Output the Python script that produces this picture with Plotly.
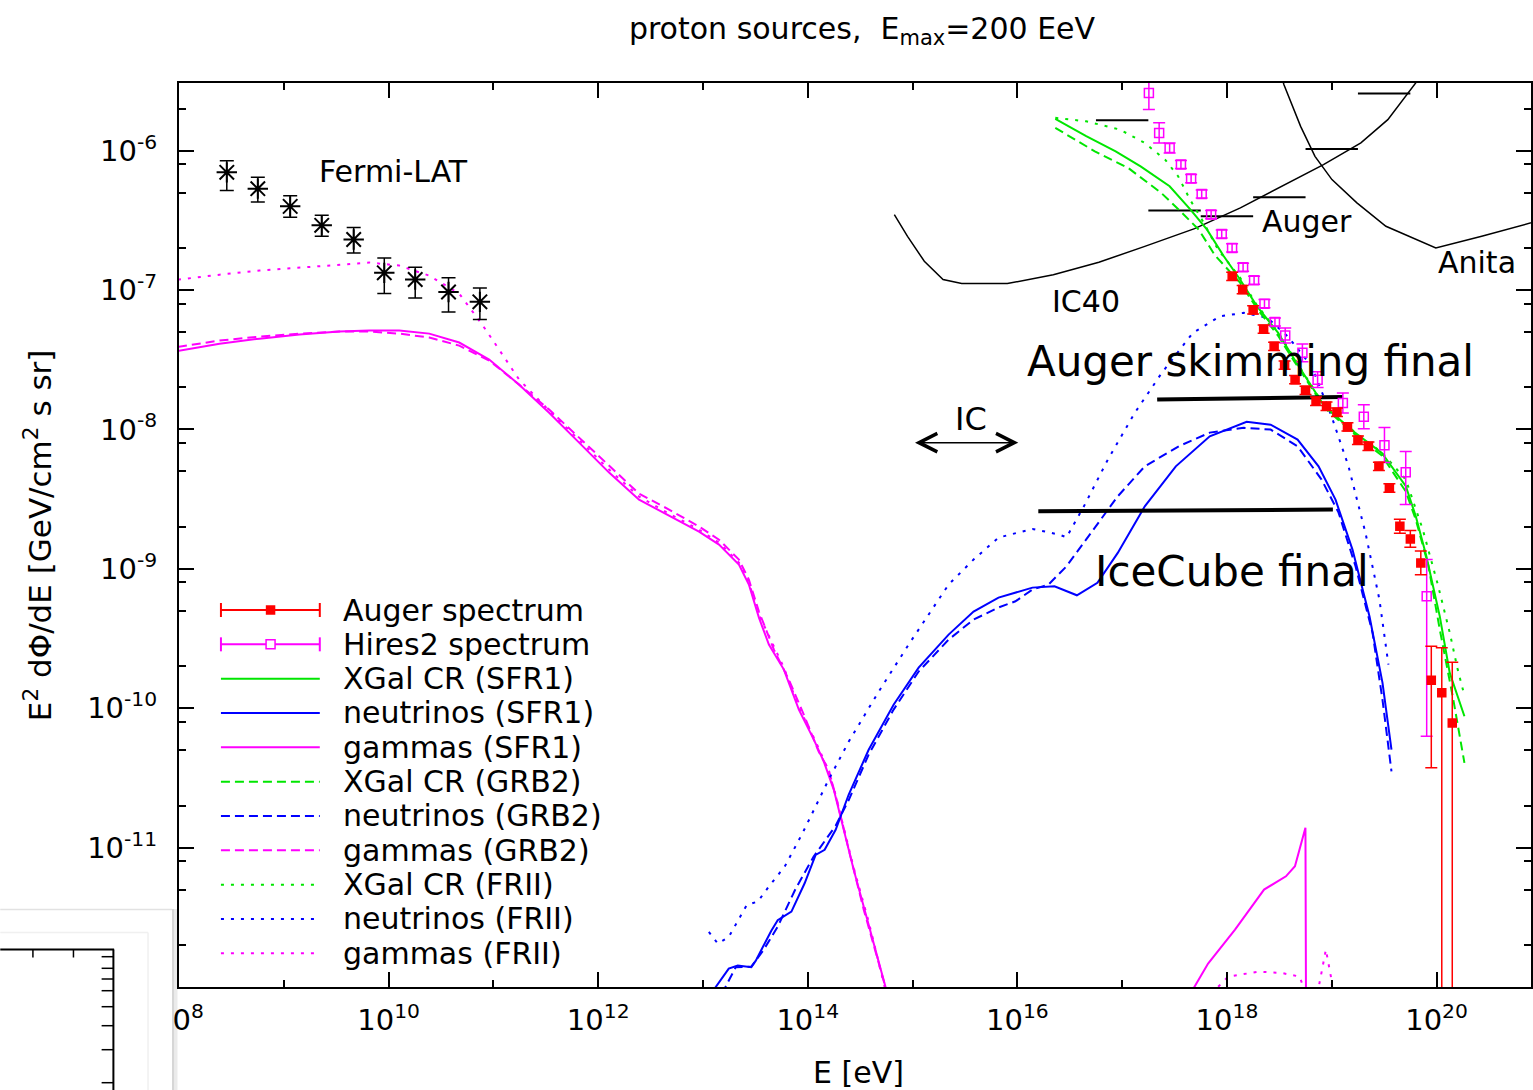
import plotly.graph_objects as go

fermi_logE = [8.456, 8.752, 9.061, 9.362, 9.667, 9.959, 10.254, 10.572, 10.871]
fermi_logF = [-6.156, -6.273, -6.400, -6.536, -6.638, -6.877, -6.925, -7.014, -7.085]
fermi_hi = [-6.072, -6.192, -6.323, -6.464, -6.552, -6.770, -6.837, -6.913, -6.985]
fermi_lo = [-6.287, -6.368, -6.478, -6.615, -6.734, -7.026, -7.057, -7.157, -7.212]

auger_logE = [18.05, 18.15, 18.25, 18.35, 18.45, 18.55, 18.65, 18.75, 18.85, 18.95, 19.05,
              19.15, 19.25, 19.35, 19.45, 19.55, 19.65, 19.75, 19.85, 19.95, 20.05, 20.15]
auger_logF = [-6.902, -6.997, -7.143, -7.281, -7.404, -7.539, -7.643, -7.720, -7.798, -7.834, -7.877,
              -7.982, -8.078, -8.121, -8.265, -8.420, -8.695, -8.786, -8.958, -9.800, -9.890, -10.106]
auger_hi = [-6.872, -6.967, -7.113, -7.251, -7.374, -7.509, -7.613, -7.690, -7.768, -7.804, -7.847,
            -7.952, -8.048, -8.091, -8.235, -8.390, -8.645, -8.726, -8.873, -9.556, -9.567, -9.671]
auger_lo = [-6.932, -7.027, -7.173, -7.311, -7.434, -7.569, -7.673, -7.750, -7.828, -7.864, -7.907,
            -8.012, -8.108, -8.151, -8.295, -8.450, -8.745, -8.846, -9.043, -10.428, -14.0, -14.0]

hires_logE = [17.255, 17.353, 17.453, 17.561, 17.658, 17.759, 17.849, 17.950, 18.049, 18.154, 18.259,
              18.358, 18.458, 18.556, 18.720, 18.865, 19.106, 19.306, 19.503, 19.706, 19.906]
hires_logF = [-5.586, -5.873, -5.981, -6.100, -6.201, -6.311, -6.459, -6.598, -6.698, -6.837, -6.930,
              -7.098, -7.229, -7.327, -7.451, -7.643, -7.810, -7.910, -8.114, -8.308, -9.197]
hires_hi = [-5.45, -5.801, -5.945, -6.071, -6.172, -6.282, -6.430, -6.569, -6.669, -6.808, -6.901,
            -7.069, -7.200, -7.273, -7.387, -7.586, -7.738, -7.824, -7.987, -8.159, -8.933]
hires_lo = [-5.706, -5.945, -6.017, -6.129, -6.230, -6.340, -6.488, -6.627, -6.727, -6.866, -6.959,
            -7.127, -7.258, -7.381, -7.515, -7.700, -7.882, -7.996, -8.238, -8.539, -10.202]

# gammas
gam_sfr1_logE = [7.99, 8.387, 8.768, 9.149, 9.530, 9.816, 10.102, 10.388, 10.674, 10.96, 11.246, 11.532,
                 11.818, 12.104, 12.390, 12.676, 12.962, 13.153, 13.343, 13.438, 13.534, 13.629, 13.772,
                 13.915, 14.058, 14.153, 14.248, 14.343, 14.438, 14.581, 14.76,
                 None, 17.650, 17.820, 18.077, 18.354, 18.563, 18.649, 18.749, 18.754]
gam_sfr1_logF = [-7.437, -7.385, -7.349, -7.320, -7.298, -7.291, -7.291, -7.313, -7.377, -7.499, -7.679, -7.880,
                 -8.095, -8.310, -8.504, -8.618, -8.733, -8.826, -8.970, -9.113, -9.350, -9.544, -9.723,
                 -10.010, -10.225, -10.383, -10.584, -10.871, -11.158, -11.553, -12.05,
                 None, -12.05, -11.832, -11.588, -11.301, -11.206, -11.134, -10.857, -12.05]
gam_grb2_logE = [7.99, 8.387, 8.768, 9.149, 9.530, 9.816, 10.102, 10.388, 10.674, 10.96, 11.246, 11.532,
                 11.818, 12.104, 12.390, 12.676, 12.962, 13.153, 13.343, 13.438, 13.534, 13.677, 13.819,
                 13.962, 14.104, 14.200, 14.295, 14.391, 14.534, 14.76]
gam_grb2_logF = [-7.408, -7.363, -7.334, -7.313, -7.298, -7.298, -7.313, -7.341, -7.399, -7.506, -7.679, -7.858,
                 -8.059, -8.260, -8.461, -8.575, -8.697, -8.791, -8.934, -9.078, -9.307, -9.580, -9.795,
                 -10.046, -10.312, -10.441, -10.713, -11.014, -11.445, -12.05]
gam_frii_logE = [7.99, 8.387, 8.768, 9.149, 9.530, 9.816, 10.102, 10.388, 10.674, 10.893, 11.055, 11.246,
                 11.532, 11.818, 12.104, 12.390, 12.676, 12.962, 13.153, 13.343, 13.438, 13.534, 13.772,
                 13.915, 14.058, 14.153, 14.248, 14.343, 14.438, 14.581, 14.75,
                 None, 17.85, 18.011, 18.306, 18.525, 18.693, 18.754, None, 18.863, 18.944, 18.992, 19.011]
gam_frii_logF = [-6.926, -6.890, -6.861, -6.839, -6.818, -6.803, -6.825, -6.897, -7.026, -7.248, -7.428, -7.643,
                 -7.865, -8.080, -8.288, -8.482, -8.604, -8.719, -8.812, -8.956, -9.099, -9.329, -9.709,
                 -9.996, -10.211, -10.369, -10.570, -10.857, -11.144, -11.531, -12.05,
                 None, -12.05, -11.925, -11.890, -11.900, -11.925, -12.05, None, -12.05, -11.732, -11.925, -12.05]

# neutrinos
nu_sfr1_logE = [13.075, 13.246, 13.332, 13.461, 13.504, 13.652, 13.713, 13.844, 13.970, 14.075, 14.161, 14.266,
                14.390, 14.581, 14.819, 15.058, 15.344, 15.582, 15.820, 15.982, 16.144, 16.354, 16.568, 16.764,
                16.958, 17.216, 17.512, 17.836, 18.188, 18.417, 18.674, 18.874, 19.036, 19.198, 19.360, 19.484,
                19.570]
nu_sfr1_logF = [-12.05, -11.868, -11.846, -11.858, -11.811, -11.596, -11.521, -11.459, -11.256, -11.052, -11.016,
                -10.872, -10.621, -10.298, -9.975, -9.709, -9.472, -9.307, -9.207, -9.171, -9.135, -9.126, -9.190,
                -9.101, -8.886, -8.552, -8.265, -8.050, -7.946, -7.966, -8.073, -8.265, -8.504, -8.862, -9.341,
                -9.816, -10.297]
nu_grb2_logE = [13.180, 13.313, 13.461, 13.580, 13.713, 13.885, 14.056, 14.266, 14.390, 14.581, 14.819, 15.058,
                15.344, 15.582, 15.820, 15.982, 16.144, 16.297, 16.469, 16.701, 16.958, 17.216, 17.540, 17.836,
                18.160, 18.417, 18.674, 18.903, 19.065, 19.227, 19.389, 19.484, 19.570]
nu_grb2_logF = [-12.05, -11.858, -11.854, -11.732, -11.567, -11.294, -11.065, -10.843, -10.660, -10.333, -10.010,
                -9.737, -9.508, -9.364, -9.278, -9.233, -9.149, -9.113, -8.982, -8.740, -8.480, -8.265, -8.121,
                -8.023, -7.989, -8.001, -8.121, -8.360, -8.597, -8.982, -9.458, -9.939, -10.453]
nu_frii_logE = [13.056, 13.142, 13.246, 13.418, 13.523, 13.628, 13.780, 13.951, 14.199, 14.390, 14.676, 14.962,
                15.344, 15.582, 15.820, 16.144, 16.402, 16.469, 16.635, 16.863, 17.120, 17.378, 17.674, 17.931,
                18.160, 18.388, 18.579, 18.808, 18.998, 19.160, 19.322, 19.455, 19.541]
nu_frii_logF = [-11.605, -11.689, -11.641, -11.412, -11.387, -11.280, -11.136, -10.895, -10.513, -10.241, -9.882,
                -9.544, -9.113, -8.934, -8.776, -8.714, -8.755, -8.774, -8.552, -8.217, -7.882, -7.595, -7.308,
                -7.189, -7.164, -7.200, -7.332, -7.547, -7.906, -8.265, -8.743, -9.221, -9.688]

# extragalactic cosmic rays
cr_sfr1_logE = [16.362, 16.657, 16.938, 17.176, 17.453, 17.652, 17.810, 17.970, 18.125, 18.287, 18.487, 18.644,
                18.930, 19.221, 19.478, 19.707, 19.802, 19.903, 20.031, 20.126, 20.266]
cr_sfr1_logF = [-5.773, -5.897, -6.005, -6.113, -6.256, -6.423, -6.567, -6.758, -6.925, -7.117, -7.306, -7.499,
                -7.834, -8.023, -8.169, -8.408, -8.623, -8.910, -9.341, -9.747, -10.058]
cr_grb2_logE = [16.362, 16.739, 17.057, 17.372, 17.572, 17.731, 17.887, 18.125, 18.287, 18.487, 18.644, 18.930,
                19.221, 19.478, 19.707, 19.802, 19.922, 20.031, 20.160, 20.266]
cr_grb2_logF = [-5.837, -6.005, -6.124, -6.303, -6.447, -6.567, -6.753, -6.947, -7.133, -7.327, -7.514, -7.844,
                -8.037, -8.187, -8.446, -8.647, -8.977, -9.436, -9.938, -10.392]
cr_frii_logE = [16.362, 16.657, 16.978, 17.215, 17.410, 17.534, 17.648, 17.772, 17.915, 18.125, 18.287, 18.487,
                18.644, 18.930, 19.221, 19.478, 19.707, 19.869, 20.012, 20.126, 20.202, 20.269]
cr_frii_logF = [-5.765, -5.790, -5.849, -5.945, -6.065, -6.184, -6.352, -6.509, -6.710, -6.911, -7.110, -7.300,
                -7.493, -7.830, -8.020, -8.165, -8.360, -8.719, -9.113, -9.458, -9.723, -9.917]

# detector limits
ic40_logE = [14.826, 14.952, 15.112, 15.291, 15.469, 15.905, 16.343, 16.778, 17.216, 17.691, 18.128, 18.525,
             18.921, 19.278, 19.535, 19.802, 19.86]
ic40_logF = [-6.459, -6.615, -6.794, -6.925, -6.954, -6.954, -6.890, -6.801, -6.687, -6.560, -6.411, -6.256,
             -6.100, -5.945, -5.778, -5.514, -5.45]
anita_logE = [18.515, 18.544, 18.703, 18.840, 19.002, 19.240, 19.517, 19.993, 20.431, 20.898, 21.0]
anita_logF = [-5.455, -5.527, -5.826, -6.041, -6.208, -6.375, -6.543, -6.698, -6.615, -6.519, -6.498]
auger_lim_edges = [16.75, 17.25, 17.75, 18.25, 18.75, 19.25, 19.75]
auger_lim_logF = [-5.783, -6.430, -6.471, -6.335, -5.988, -5.591]
skim_final_logE = [17.334, 19.106]
skim_final_logF = [-7.786, -7.767]
icecube_final_logE = [16.200, 19.011]
icecube_final_logF = [-8.588, -8.575]

x_tick_exp = [8, 10, 12, 14, 16, 18, 20]
x_minor_exp = [9, 11, 13, 15, 17, 19]
y_tick_exp = [-11, -10, -9, -8, -7, -6]

legend_names = ["Auger spectrum", "Hires2 spectrum", "XGal CR (SFR1)", "neutrinos (SFR1)", "gammas (SFR1)",
                "XGal CR (GRB2)", "neutrinos (GRB2)", "gammas (GRB2)", "XGal CR (FRII)", "neutrinos (FRII)",
                "gammas (FRII)"]

# ---------------- styling ----------------
RED, MAG, GRN, BLU, BLK = "#ff0000", "#ff00ff", "#00e600", "#0000ff", "#000000"
DASH, DOT = "9px,5px", "3px,7px"
FONT = "DejaVu Sans"
W, H = 1533, 1090
ML, MR, MT, MB = 179, 0, 83, 103
PW, PH = W - ML - MR, H - MT - MB


def lin(a):
    return [None if v is None else 10.0 ** v for v in a]


def P(x, y):
    """pixel position -> paper coordinates (for layout decorations only)"""
    return (x - ML) / PW, (H - MB - y) / PH


fig = go.Figure()


def curve(logE, logF, color, dash, width=2.0):
    fig.add_trace(go.Scatter(x=lin(logE), y=lin(logF), mode="lines", connectgaps=False,
                             line=dict(color=color, dash=dash, width=width),
                             showlegend=False, hoverinfo="skip"))


def points(logE, logF, hi, lo, color, symbol, size, cap, mline=1.5):
    y = lin(logF)
    yh, yl = lin(hi), lin(lo)
    fig.add_trace(go.Scatter(
        x=lin(logE), y=y, mode="markers", showlegend=False, hoverinfo="skip",
        marker=dict(symbol=symbol, size=size, color=color, line=dict(color=color, width=mline)),
        error_y=dict(type="data", symmetric=False,
                     array=[a - b for a, b in zip(yh, y)],
                     arrayminus=[a - b for a, b in zip(y, yl)],
                     color=color, thickness=1.5, width=cap)))


# detector limits
curve(ic40_logE, ic40_logF, BLK, "solid", 1.5)
curve(anita_logE, anita_logF, BLK, "solid", 1.5)
lim_x, lim_y = [], []
for i, v in enumerate(auger_lim_logF):
    lim_x += [auger_lim_edges[i], auger_lim_edges[i + 1], None]
    lim_y += [v, v, None]
curve(lim_x, lim_y, BLK, "solid", 2.0)

# model curves
curve(gam_sfr1_logE, gam_sfr1_logF, MAG, "solid")
curve(gam_grb2_logE, gam_grb2_logF, MAG, DASH)
curve(gam_frii_logE, gam_frii_logF, MAG, DOT)
curve(nu_sfr1_logE, nu_sfr1_logF, BLU, "solid")
curve(nu_grb2_logE, nu_grb2_logF, BLU, DASH)
curve(nu_frii_logE, nu_frii_logF, BLU, DOT)
curve(cr_sfr1_logE, cr_sfr1_logF, GRN, "solid")
curve(cr_grb2_logE, cr_grb2_logF, GRN, DASH)
curve(cr_frii_logE, cr_frii_logF, GRN, DOT)

# sensitivities drawn by hand
curve(skim_final_logE, skim_final_logF, BLK, "solid", 4)
curve(icecube_final_logE, icecube_final_logF, BLK, "solid", 4)

# data
points(fermi_logE, fermi_logF, fermi_hi, fermi_lo, BLK, "asterisk-open", 17, 7, 2)
points(hires_logE, hires_logF, hires_hi, hires_lo, MAG, "square-open", 9, 6)
points(auger_logE, auger_logF, auger_hi, auger_lo, RED, "square", 8, 6)

# ---------------- annotations ----------------
ann = []


def txt(x, y, s, size=30, xanchor="left", xref="x", yref="y", family=FONT, **kw):
    ann.append(dict(x=x, y=y, xref=xref, yref=yref, text=s, showarrow=False, xanchor=xanchor,
                    yanchor="middle", font=dict(family=family, size=size, color=BLK), **kw))


txt(9.321, -6.151, "Fermi-LAT")
txt(18.315, -6.509, "Auger")
txt(19.998, -6.803, "Anita")
txt(16.314, -7.083, "IC40")
txt(15.561, -7.922, "IC", xanchor="center", size=32)
txt(16.077, -7.511, "Auger skimming final", size=42)
txt(16.724, -9.018, "IceCube final", size=42)
ann.append(dict(x=16.009, y=-8.095, ax=15.009, ay=-8.095, xref="x", yref="y", axref="x", ayref="y",
                showarrow=True, arrowhead=5, startarrowhead=5, arrowside="end+start", arrowsize=2.4,
                startarrowsize=2.4, arrowwidth=1.5, arrowcolor=BLK, text=""))

# axis titles
px_, py_ = P(860, 1072)
txt(px_, py_, "E [eV]", xanchor="center", xref="paper", yref="paper")
px_, py_ = P(38, 535)
txt(px_, py_, "E<sup>2</sup> d\u03a6/dE [GeV/cm<sup>2</sup> s sr]", size=31, xanchor="center",
    xref="paper", yref="paper", textangle=-90)

# ---------------- hand-made legend ----------------
shapes = []
row0, drow = 610.0, 34.33
styles = [("err", RED), ("err", MAG), ("solid", GRN), ("solid", BLU), ("solid", MAG),
          (DASH, GRN), (DASH, BLU), (DASH, MAG), (DOT, GRN), (DOT, BLU), (DOT, MAG)]
for i, (name, (sty, col)) in enumerate(zip(legend_names, styles)):
    yy = row0 + i * drow
    x0, y0 = P(221, yy)
    x1, _ = P(320, yy)
    shapes.append(dict(type="line", xref="paper", yref="paper", x0=x0, x1=x1, y0=y0, y1=y0,
                       line=dict(color=col, width=2, dash=("solid" if sty == "err" else sty))))
    if sty == "err":
        for cx in (221, 320):
            a, b = P(cx, yy - 7)
            _, c = P(cx, yy + 7)
            shapes.append(dict(type="line", xref="paper", yref="paper", x0=a, x1=a, y0=b, y1=c,
                               line=dict(color=col, width=2)))
        h = 4 if col == RED else 4.5
        a, b = P(270.7 - h, yy - h)
        c, d = P(270.7 + h, yy + h)
        shapes.append(dict(type="rect", xref="paper", yref="paper", x0=a, x1=c, y0=b, y1=d,
                           fillcolor=(col if col == RED else "white"), line=dict(color=col, width=1.5)))
    tx, ty = P(341.7, yy)
    txt(tx, ty, name, xref="paper", yref="paper")

# ---------------- screenshot fragment at bottom left ----------------
def rect(xa, ya, xb, yb, fill, layer="above", lc=None, lw=0):
    a, b = P(xa, ya)
    c, d = P(xb, yb)
    shapes.append(dict(type="rect", xref="paper", yref="paper", x0=a, x1=c, y0=b, y1=d, layer=layer,
                       fillcolor=fill, line=dict(color=lc or fill, width=lw)))


def seg(xa, ya, xb, yb, col, w):
    a, b = P(xa, ya)
    c, d = P(xb, yb)
    shapes.append(dict(type="line", xref="paper", yref="paper", x0=a, x1=c, y0=b, y1=d,
                       line=dict(color=col, width=w)))


rect(0, 909, 172, 1090, "white")
rect(172, 909, 174.5, 1090, "#d6d6d6", layer="below")
rect(174.5, 909, 177.5, 1090, "#ebebeb", layer="below")
seg(0, 909.5, 172, 909.5, "#e2e2e2", 1.5)
seg(0, 932.5, 148, 932.5, "#f0f0f0", 1.5)
seg(148, 932.5, 148, 1090, "#f0f0f0", 1.5)
seg(0, 949.5, 114, 949.5, BLK, 2)
seg(113.3, 949.5, 113.3, 1090, BLK, 2)
for tx_ in (32.7, 73.3):
    seg(tx_, 949.5, tx_, 957.5, BLK, 1.5)
for ty_ in (956.7, 968.3, 979, 990.7, 1006.7, 1025.7, 1049.7, 1082.7):
    seg(101.5, ty_, 113.3, ty_, BLK, 1.5)

# ---------------- layout ----------------
y_minor = [m * 10.0 ** d for d in range(-12, -5) for m in (2, 5, 8)]
axis_common = dict(type="log", showline=True, linewidth=2, linecolor=BLK, mirror="ticks", ticks="inside",
                   tickwidth=1.5, tickcolor=BLK, ticklen=15, showgrid=False, zeroline=False,
                   tickfont=dict(family=FONT, size=29, color=BLK))
fig.update_layout(
    width=W, height=H, margin=dict(l=ML, r=MR, t=MT, b=MB),
    paper_bgcolor="white", plot_bgcolor="white", showlegend=False,
    title=dict(text="proton sources,\u00a0\u00a0E<sub>max</sub>=200 EeV", x=862 / W, xref="container",
               xanchor="center", y=1 - 28 / H, yref="container", yanchor="middle",
               font=dict(family=FONT, size=30, color=BLK)),
    xaxis=dict(range=[8.0, 8.0 + PW / 104.95], tickmode="array",
               tickvals=[10.0 ** e for e in x_tick_exp],
               ticktext=["10<sup>%d</sup>" % e for e in x_tick_exp],
               minor=dict(tickmode="array", tickvals=[10.0 ** e for e in x_minor_exp], ticklen=7,
                          ticks="inside", tickwidth=1.5, tickcolor=BLK),
               ticklabelstandoff=6, **axis_common),
    yaxis=dict(range=[-12.0, -12.0 + PH / 139.4], tickmode="array",
               tickvals=[10.0 ** e for e in y_tick_exp],
               ticktext=["10<sup>%d</sup>" % e for e in y_tick_exp],
               minor=dict(tickmode="array", tickvals=y_minor, ticklen=7, ticks="inside",
                          tickwidth=1.5, tickcolor=BLK),
               ticklabelstandoff=14, **axis_common),
    annotations=ann, shapes=shapes,
)

fig.write_html("out.html")
